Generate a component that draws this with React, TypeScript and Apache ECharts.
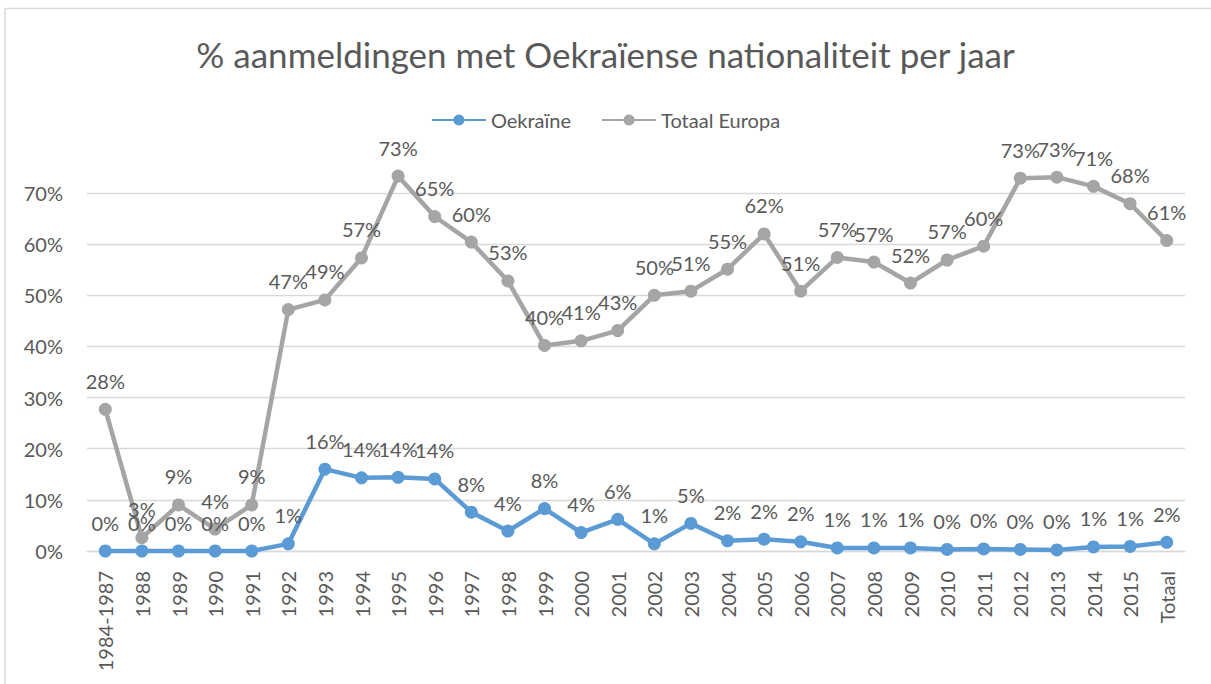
import React, { useEffect, useRef } from "react";
import * as echarts from "echarts";

const categories = [
  "1984-1987", "1988", "1989", "1990", "1991", "1992", "1993", "1994", "1995", "1996",
  "1997", "1998", "1999", "2000", "2001", "2002", "2003", "2004", "2005", "2006",
  "2007", "2008", "2009", "2010", "2011", "2012", "2013", "2014", "2015", "Totaal",
];

const oekraine = [
  0, 0, 0, 0, 0, 1.4, 16.0, 14.3, 14.4, 14.1,
  7.6, 3.9, 8.3, 3.6, 6.2, 1.4, 5.4, 2.0, 2.3, 1.8,
  0.6, 0.6, 0.6, 0.3, 0.4, 0.3, 0.2, 0.8, 0.9, 1.7,
];

const totaalEuropa = [
  27.7, 2.6, 9.0, 4.3, 9.0, 47.2, 49.1, 57.3, 73.3, 65.4,
  60.4, 52.8, 40.2, 41.1, 43.1, 50.0, 50.8, 55.1, 62.0, 50.8,
  57.4, 56.5, 52.4, 56.9, 59.6, 72.9, 73.1, 71.3, 67.9, 60.7,
];

const yTicks = { min: 0, max: 70, interval: 10 };

const FONT = "Lato";
const TEXT = "#595959";

export default function App() {
  const ref = useRef<HTMLDivElement>(null);
  useEffect(() => {
    if (!ref.current) return;
    const chart = echarts.init(ref.current, undefined, { renderer: "svg" });
    const labelCfg = {
      show: true,
      position: "top",
      distance: 12,
      color: TEXT,
      fontFamily: FONT,
      fontSize: 20,
      formatter: (p: any) => Math.round(p.value) + "%",
    };
    chart.setOption({
      animation: false,
      backgroundColor: "#ffffff",
      textStyle: { fontFamily: FONT },
      title: {
        text: "% aanmeldingen met Oekraïense nationaliteit per jaar",
        left: "center",
        top: 31,
        textStyle: { fontFamily: FONT, fontSize: 35, fontWeight: "normal", color: TEXT },
      },
      legend: {
        top: 105,
        left: "center",
        itemWidth: 54,
        itemHeight: 14,
        itemGap: 30,
        textStyle: { fontFamily: FONT, fontSize: 20, color: TEXT },
        data: ["Oekraïne", "Totaal Europa"],
      },
      grid: { left: 87, right: 26, top: 193, bottom: 133 },
      xAxis: {
        type: "category",
        data: categories,
        boundaryGap: true,
        axisLine: { show: true, lineStyle: { color: "#D9D9D9", width: 1.3 } },
        axisTick: { show: false },
        axisLabel: {
          rotate: 90,
          margin: 20,
          interval: 0,
          color: TEXT,
          fontFamily: FONT,
          fontSize: 20,
        },
      },
      yAxis: {
        type: "value",
        min: yTicks.min,
        max: yTicks.max,
        interval: yTicks.interval,
        axisLine: { show: false },
        axisTick: { show: false },
        splitLine: { lineStyle: { color: "#D9D9D9", width: 1.3 } },
        axisLabel: {
          formatter: "{value}%",
          margin: 24,
          color: TEXT,
          fontFamily: FONT,
          fontSize: 20,
        },
      },
      graphic: [
        {
          type: "rect",
          shape: { x: 5, y: 8.5, width: 1300, height: 800 },
          style: { fill: "none", stroke: "#D9D9D9", lineWidth: 1.5 },
          silent: true,
        },
      ],
      series: [
        {
          name: "Oekraïne",
          type: "line",
          data: oekraine,
          clip: false,
          symbol: "circle",
          symbolSize: 13,
          color: "#5B9BD5",
          lineStyle: { width: 4.5, color: "#5B9BD5" },
          itemStyle: { color: "#5B9BD5" },
          label: labelCfg,
          z: 3,
        },
        {
          name: "Totaal Europa",
          type: "line",
          data: totaalEuropa,
          clip: false,
          symbol: "circle",
          symbolSize: 13,
          color: "#A5A5A5",
          lineStyle: { width: 4.5, color: "#A5A5A5" },
          itemStyle: { color: "#A5A5A5" },
          label: labelCfg,
          z: 2,
        },
      ],
    });
    return () => chart.dispose();
  }, []);
  return (
    <div
      ref={ref}
      style={{ position: "absolute", left: 0, top: 0, width: 1211, height: 684 }}
    />
  );
}
